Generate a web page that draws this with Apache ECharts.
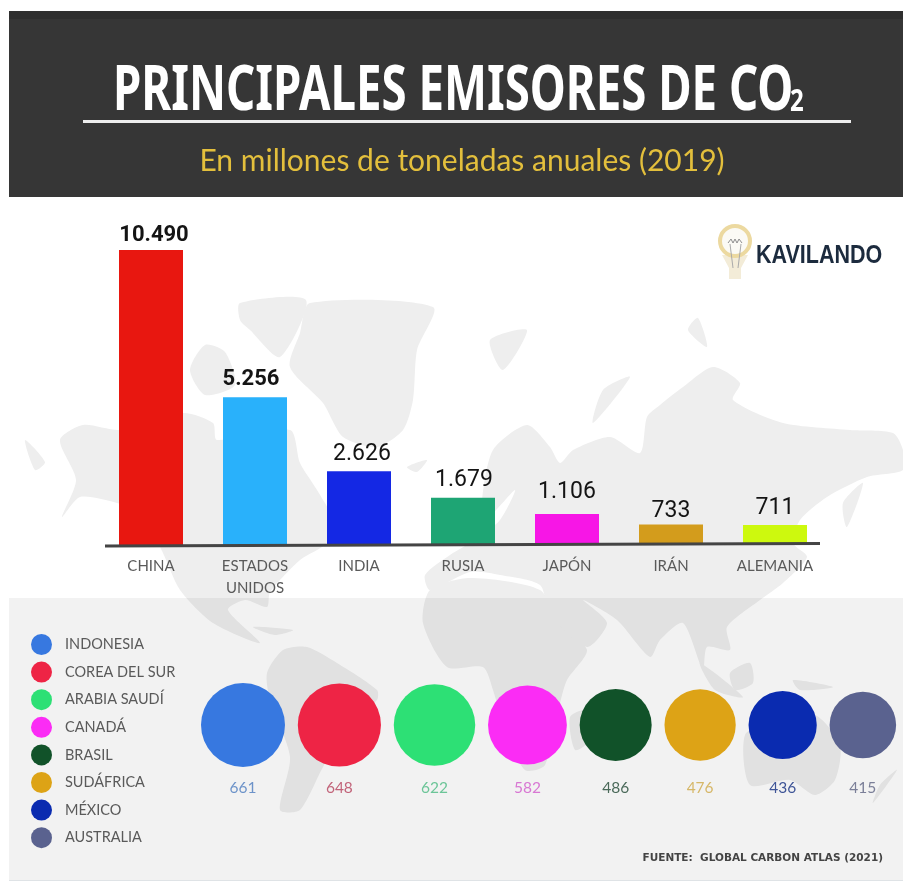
<!DOCTYPE html>
<html>
<head>
<meta charset="utf-8">
<title>Principales emisores de CO2</title>
<script src="https://cdn.jsdelivr.net/npm/echarts@6/dist/echarts.min.js"></script>
<style>
  html, body { margin: 0; padding: 0; background: #fff; }
  #chart { width: 903px; height: 881px; }
</style>
</head>
<body>
<div id="chart"></div>
<script>
const barNames = ['CHINA', 'ESTADOS\nUNIDOS', 'INDIA', 'RUSIA', 'JAPÓN', 'IRÁN', 'ALEMANIA']
const barValues = [10490, 5256, 2626, 1679, 1106, 733, 711]
const barColors = ['#e81710', '#29b1fb', '#1428e4', '#1ea574', '#f716e6', '#d39c1c', '#cdf90e']

const circleNames = ['INDONESIA', 'COREA DEL SUR', 'ARABIA SAUDÍ', 'CANADÁ', 'BRASIL', 'SUDÁFRICA', 'MÉXICO', 'AUSTRALIA']
const circleValues = [661, 648, 622, 582, 486, 476, 436, 415]
const circleColors = ['#3778e0', '#ee2445', '#2de075', '#fb2cf5', '#115229', '#dda316', '#0a2bb0', '#5a628f']
const circleTextColors = ['#6d93c9', '#c2647a', '#6cc598', '#d877d3', '#4b6a5a', '#d6b768', '#3f5597', '#7b7f98']

// background world map, only decoration
const mapShapes = [
  [[310, 303], [433, 307], [417, 350], [413, 400], [403, 430], [377, 447], [343, 437], [323, 403], [290, 367], [300, 333]],
  [[240, 303], [306, 300], [280, 357], [250, 330], [240, 320]],
  [[205, 345], [225, 352], [235, 385], [205, 395], [190, 370]],
  [[60, 440], [83, 425], [120, 430], [183, 413], [213, 423], [217, 440], [290, 430], [300, 463], [317, 490], [333, 520], [327, 543], [300, 560], [270, 592], [267, 607], [245, 600], [228, 610], [260, 643], [213, 623], [180, 590], [160, 547], [133, 510], [117, 503], [80, 497], [62, 517], [76, 480]],
  [[25, 440], [45, 462], [35, 470]],
  [[253, 627], [293, 630], [275, 635]],
  [[267, 673], [283, 650], [307, 647], [337, 663], [377, 690], [377, 700], [350, 723], [323, 767], [300, 810], [280, 810], [290, 757], [270, 700]],
  [[423, 623], [430, 590], [470, 578], [540, 590], [560, 625], [587, 650], [567, 680], [560, 703], [545, 765], [525, 770], [505, 730], [493, 690], [483, 667], [447, 667]],
  [[570, 717], [588, 710], [590, 740], [575, 750]],
  [[493, 450], [527, 425], [550, 447], [560, 463], [573, 450], [610, 437], [640, 453], [647, 417], [660, 405], [683, 387], [713, 367], [740, 383], [733, 400], [783, 423], [850, 430], [893, 433], [903, 450], [903, 470], [867, 477], [827, 497], [800, 520], [793, 543], [807, 557], [783, 583], [760, 600], [727, 627], [730, 650], [707, 647], [703, 670], [683, 623], [660, 640], [650, 657], [617, 620], [583, 600], [607, 623], [587, 647], [550, 615], [540, 585], [500, 575], [470, 572], [430, 590], [425, 575], [450, 555], [475, 540], [500, 520], [515, 490], [485, 520], [482, 500]],
  [[630, 377], [593, 423], [603, 390]],
  [[490, 340], [527, 330], [503, 370]],
  [[698, 318], [707, 347], [688, 330]],
  [[863, 483], [847, 527], [843, 503]],
  [[407, 467], [427, 460], [417, 472]],
  [[745, 735], [775, 720], [815, 715], [840, 745], [835, 780], [815, 795], [790, 780], [750, 785]],
  [[897, 770], [873, 803], [880, 785]],
  [[793, 680], [833, 687], [800, 690]],
  [[700, 663], [743, 697], [715, 690]],
  [[730, 673], [750, 663], [753, 683], [735, 690]]
]

function dotted(v) {
  return String(v).replace(/\B(?=(\d{3})+$)/g, '.')
}

const chart = echarts.init(document.getElementById('chart'))

// circle area goes with the value, and they sit one after the other
const circleSizes = circleValues.map(v => 3.267 * Math.sqrt(v))
let cursor = 201
const circleX = circleSizes.map(s => {
  const x = cursor + s / 2
  cursor += s + 12.8
  return x
})

const barLabelFont = [
  { fontWeight: 'bold', fontSize: 22, distance: 4, offset: [3, 0] },
  { fontWeight: 'bold', fontSize: 22, distance: 7, offset: [-4, 0] },
  { fontSize: 23, distance: 5, offset: [3, 0] },
  { fontSize: 23, distance: 6, offset: [1, 0] },
  { fontSize: 23, distance: 10 },
  { fontSize: 23, distance: 2 },
  { fontSize: 23, distance: 5 }
]

const graphics = []
mapShapes.forEach(points => {
  graphics.push({ type: 'polygon', z: 0, shape: { points: points, smooth: 0.25 }, style: { fill: '#eeeeee' } })
})
graphics.push(
  { type: 'rect', z: 0, shape: { x: 9, y: 598, width: 894, height: 282 }, style: { fill: 'rgba(0,0,0,0.05)' } },
  { type: 'rect', z: 0, shape: { x: 9, y: 880, width: 894, height: 1 }, style: { fill: '#dfe3e6' } },
  { type: 'rect', z: 0, shape: { x: 9, y: 11, width: 894, height: 186 }, style: { fill: '#363636' } },
  { type: 'rect', z: 0, shape: { x: 9, y: 11, width: 894, height: 8 }, style: { fill: '#2f2f2f' } },
  { type: 'rect', z: 0, shape: { x: 83, y: 120, width: 768, height: 3 }, style: { fill: '#eeeeee' } },
  // no narrow font here, so the title text gets squeezed
  { type: 'text', z: 3, x: 113, y: 92, scaleX: 0.735, style: { x: 0, y: 0, text: 'PRINCIPALES EMISORES DE CO', fill: '#fff', font: 'bold 62px "Noto Sans"', textVerticalAlign: 'middle' } },
  { type: 'text', z: 3, x: 790, y: 102, scaleX: 0.8, style: { x: 0, y: 0, text: '2', fill: '#fff', font: 'bold 30px "Noto Sans"', textVerticalAlign: 'middle' } },
  { type: 'text', z: 3, x: 462, y: 161, style: { x: 0, y: 0, text: 'En millones de toneladas anuales (2019)', fill: '#e3bf3c', font: '30px Lato', textAlign: 'center', textVerticalAlign: 'middle' } },
  // axis rule, a little tilted in the original
  { type: 'line', z: 5, shape: { x1: 105, y1: 546, x2: 820, y2: 543.5 }, style: { stroke: '#444', lineWidth: 3 } },
  // logo
  { type: 'polygon', z: 1, shape: { points: [[722, 255], [748, 255], [741, 268], [741, 279], [729, 279], [729, 268]] }, style: { fill: '#f3ecd8' } },
  { type: 'circle', z: 1, shape: { cx: 735, cy: 241, r: 15 }, style: { fill: '#fbfaf5', stroke: '#ecd9a0', lineWidth: 4 } },
  { type: 'polyline', z: 2, shape: { points: [[728, 243], [731, 239], [733, 243], [735, 239], [737, 243], [739, 239], [742, 243]] }, style: { stroke: '#8d8d8d', lineWidth: 1, fill: null } },
  { type: 'polyline', z: 2, shape: { points: [[730, 244], [733, 268]] }, style: { stroke: '#aaa', lineWidth: 1, fill: null } },
  { type: 'polyline', z: 2, shape: { points: [[741, 244], [738, 268]] }, style: { stroke: '#aaa', lineWidth: 1, fill: null } },
  { type: 'text', z: 3, x: 756, y: 256, scaleX: 0.86, style: { x: 0, y: 0, text: 'KAVILANDO', fill: '#1c2b3e', font: 'bold 25px "Liberation Sans"', textVerticalAlign: 'middle' } },
  { type: 'text', z: 3, x: 883, y: 858, style: { x: 0, y: 0, text: 'FUENTE:  GLOBAL CARBON ATLAS (2021)', fill: '#444', font: 'bold 10.5px "DejaVu Sans"', textAlign: 'right', textVerticalAlign: 'middle' } }
)

chart.setOption({
  animation: false,
  backgroundColor: '#fff',
  legend: {
    orient: 'vertical',
    left: 26,
    top: 629,
    icon: 'circle',
    itemWidth: 21,
    itemHeight: 21,
    itemGap: 6.6,
    data: circleNames,
    textStyle: { color: '#5a5a5a', fontFamily: 'Lato', fontSize: 14.5, padding: [0, 0, 0, 8] }
  },
  grid: [
    { left: 99, width: 728, top: 250, height: 295 },
    { left: 0, width: 903, top: 670, height: 110 }
  ],
  xAxis: [
    {
      type: 'category',
      gridIndex: 0,
      data: barNames,
      axisLine: { show: false },
      axisTick: { show: false },
      axisLabel: { color: '#5a5a5a', fontFamily: 'Lato', fontSize: 15, margin: 10, lineHeight: 22, interval: 0 }
    },
    { type: 'value', gridIndex: 1, min: 0, max: 903, show: false, splitLine: { show: false } }
  ],
  yAxis: [
    { type: 'value', gridIndex: 0, min: 0, max: 10490, show: false, splitLine: { show: false } },
    { type: 'value', gridIndex: 1, min: 0, max: 110, inverse: true, show: false, splitLine: { show: false } }
  ],
  graphic: graphics,
  series: [
    {
      type: 'bar',
      name: 'Principales',
      xAxisIndex: 0,
      yAxisIndex: 0,
      barWidth: 64,
      z: 3,
      data: barValues.map((v, i) => ({
        value: v,
        itemStyle: { color: barColors[i] },
        label: Object.assign({ show: true, position: 'top', color: '#141414', fontFamily: 'Roboto', formatter: dotted(v) }, barLabelFont[i])
      }))
    }
  ].concat(circleNames.map((name, i) => ({
    type: 'scatter',
    name: name,
    xAxisIndex: 1,
    yAxisIndex: 1,
    symbol: 'circle',
    symbolSize: circleSizes[i],
    clip: false,
    itemStyle: { color: circleColors[i], opacity: 1 },
    label: {
      show: true,
      position: 'bottom',
      distance: 62 - circleSizes[i] / 2 - 7,
      color: circleTextColors[i],
      fontFamily: 'Lato',
      fontSize: 15.5,
      formatter: String(circleValues[i])
    },
    data: [[circleX[i], 55]]
  })))
})
</script>
</body>
</html>
